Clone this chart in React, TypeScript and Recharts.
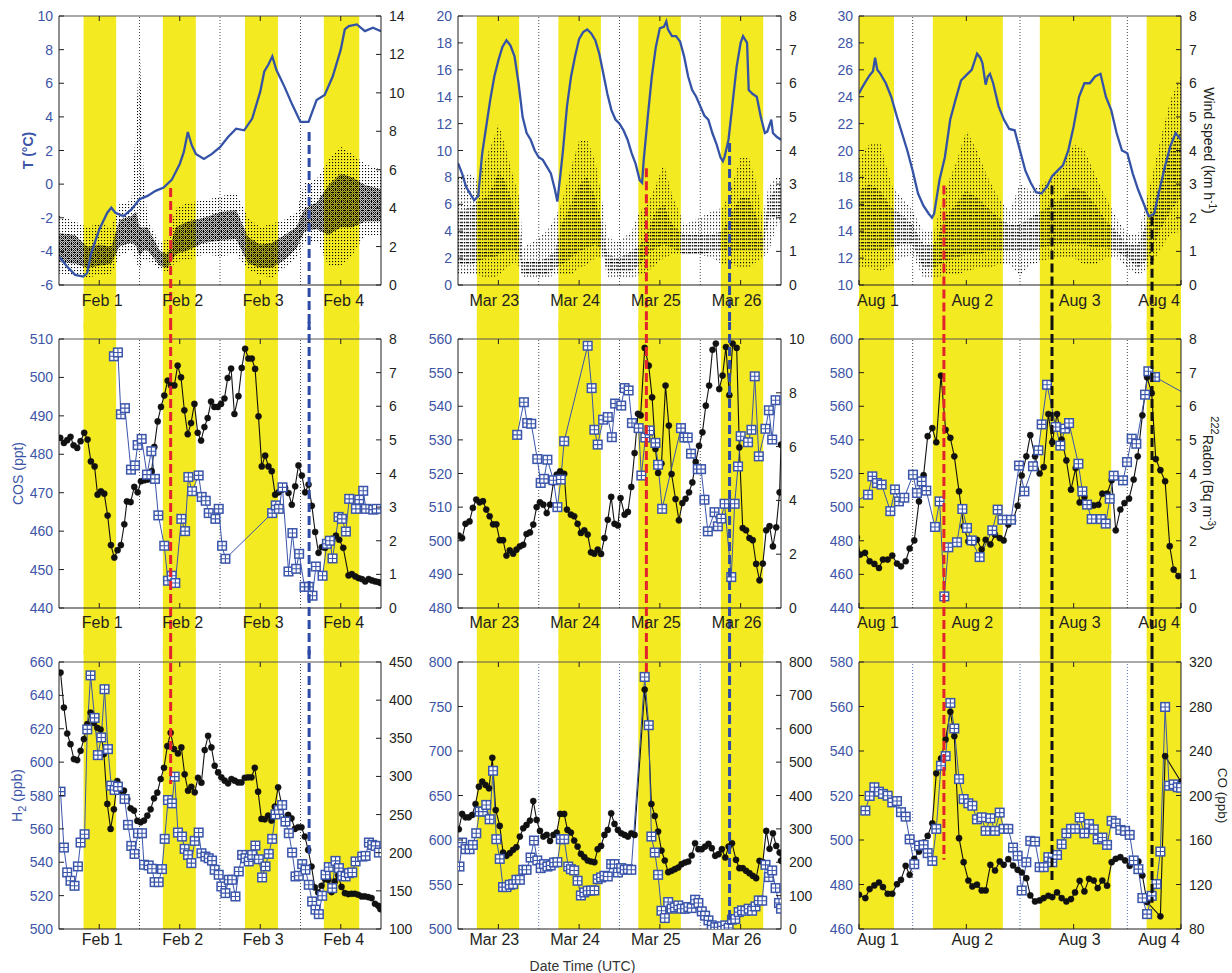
import React from "react";
import { ComposedChart, Line, Area, XAxis, YAxis, ReferenceArea, ReferenceLine } from "recharts";

const FONT = '"Liberation Sans", Arial, Helvetica, sans-serif';
const YELLOW = "#f4ea22";
const TLINE = "#3553a6";
const BLUE_TXT = "#3d55a7";
const SQ = "#3a55aa";
const INK = "#231f20";
const RED = "#e3232b";
const EVBLUE = "#2d4ba6";
const EVBLACK = "#111111";

// ---------- time axes ----------
const febDays = [1, 2, 3, 4];
const febLabels = ["Feb 1", "Feb 2", "Feb 3", "Feb 4"];
const febDaylight = [[0.805, 1.21], [1.79, 2.2], [2.81, 3.22], [3.79, 4.23]];
const febMidnight = [1.5, 2.5, 3.5];
const febEventT = [1.887, 3.607];
const febEventColor = [RED, EVBLUE];
const febEventFrom = [-0.23, 3.1];
const febEventTo = [586.9, 542.6];

const marDays = [23, 24, 25, 26];
const marLabels = ["Mar 23", "Mar 24", "Mar 25", "Mar 26"];
const marDaylight = [[22.733, 23.257], [23.743, 24.27], [24.733, 25.26], [25.755, 26.28]];
const marMidnight = [23.5, 24.5, 25.5];
const marEventT = [24.833, 25.863];
const marEventColor = [RED, EVBLUE];
const marEventFrom = [8.68, 10.56];
const marEventTo = [788.5, 504.8];

const augDays = [1, 2, 3, 4];
const augLabels = ["Aug 1", "Aug 2", "Aug 3", "Aug 4"];
const augDaylight = [[1.0, 1.326], [1.688, 2.34], [2.685, 3.35], [3.68, 4.0]];
const augMidnight = [1.5, 2.5, 3.5];
const augEventT = [1.791, 2.798, 3.73];
const augEventColor = [RED, EVBLACK, EVBLACK];
const augEventFrom = [17.4, 17.4, 15.08];
const augEventTo = [491.1, 480.8, 471.8];

// ---------- row 1: temperature and wind ----------
const tempFebT = [0.5, 0.6, 0.7, 0.8, 0.85, 0.9, 1.0, 1.1, 1.15, 1.2, 1.3, 1.4, 1.5, 1.6, 1.7, 1.8, 1.9, 2.0, 2.05, 2.1, 2.15, 2.2, 2.3, 2.4, 2.5, 2.6, 2.7, 2.8, 2.9, 3.0, 3.05, 3.1, 3.15, 3.2, 3.3, 3.4, 3.5, 3.6, 3.7, 3.8, 3.9, 4.0, 4.05, 4.1, 4.2, 4.3, 4.4, 4.5];
const tempFeb = [-4.3, -4.9, -5.4, -5.5, -5.3, -4.1, -2.7, -1.7, -1.4, -1.7, -1.9, -1.5, -0.9, -0.7, -0.4, -0.2, 0.25, 1.2, 1.9, 3.1, 2.3, 1.8, 1.5, 1.8, 2.2, 2.8, 3.3, 3.2, 3.9, 5.5, 6.7, 7.1, 7.6, 6.8, 5.8, 4.7, 3.7, 3.7, 5.0, 5.3, 6.4, 8.0, 9.2, 9.4, 9.5, 9.1, 9.3, 9.1];

const tempMarT = [22.5, 22.55, 22.6, 22.65, 22.7, 22.75, 22.8, 22.85, 22.9, 22.95, 23.0, 23.05, 23.1, 23.15, 23.2, 23.25, 23.3, 23.35, 23.4, 23.45, 23.5, 23.55, 23.6, 23.65, 23.7, 23.73, 23.77, 23.8, 23.85, 23.9, 23.95, 24.0, 24.05, 24.1, 24.15, 24.2, 24.25, 24.3, 24.35, 24.4, 24.45, 24.5, 24.55, 24.6, 24.65, 24.7, 24.75, 24.78, 24.8, 24.85, 24.9, 24.95, 25.0, 25.05, 25.08, 25.1, 25.15, 25.2, 25.25, 25.3, 25.35, 25.4, 25.45, 25.5, 25.55, 25.6, 25.65, 25.7, 25.75, 25.78, 25.8, 25.85, 25.9, 25.95, 26.0, 26.03, 26.08, 26.1, 26.15, 26.2, 26.25, 26.3, 26.33, 26.38, 26.4, 26.45, 26.5];
const tempMar = [9.05, 8.3, 7.3, 6.8, 6.3, 6.6, 9.8, 11.8, 13.8, 15.5, 16.7, 17.7, 18.2, 17.8, 17.0, 15.0, 12.5, 11.3, 10.8, 10.0, 9.5, 9.3, 8.8, 8.3, 7.1, 6.2, 8.3, 10.0, 13.3, 15.5, 17.0, 18.3, 18.8, 19.0, 18.7, 18.2, 17.2, 15.7, 14.2, 13.0, 12.3, 12.0, 11.5, 10.8, 9.8, 9.0, 7.8, 7.6, 9.3, 12.5, 15.5, 17.7, 19.1, 19.2, 19.6, 19.0, 18.5, 18.5, 18.1, 17.0, 15.5, 14.5, 14.0, 13.3, 12.6, 12.3, 11.3, 10.5, 9.5, 9.2, 9.5, 10.8, 13.5, 16.2, 18.0, 18.5, 18.0, 14.5, 14.2, 14.0, 12.5, 11.3, 11.4, 12.3, 11.3, 11.0, 10.8];

const tempAugT = [1.0, 1.03, 1.06, 1.1, 1.13, 1.15, 1.17, 1.2, 1.25, 1.3, 1.35, 1.4, 1.45, 1.5, 1.55, 1.6, 1.65, 1.68, 1.7, 1.75, 1.8, 1.85, 1.9, 1.95, 2.0, 2.05, 2.1, 2.13, 2.15, 2.18, 2.2, 2.22, 2.25, 2.3, 2.35, 2.4, 2.45, 2.5, 2.55, 2.6, 2.65, 2.7, 2.75, 2.8, 2.85, 2.9, 2.95, 3.0, 3.05, 3.1, 3.15, 3.2, 3.25, 3.3, 3.35, 3.4, 3.45, 3.5, 3.55, 3.6, 3.65, 3.7, 3.75, 3.8, 3.85, 3.9, 3.95, 4.0];
const tempAug = [24.25, 24.7, 25.1, 25.6, 25.9, 26.9, 26.0, 25.7, 25.0, 24.0, 22.6, 21.3, 20.0, 18.5, 16.8, 15.9, 15.3, 15.0, 15.3, 17.8, 19.5, 22.3, 23.8, 25.2, 25.6, 26.0, 27.2, 26.9, 26.5, 24.9, 25.5, 25.7, 25.0, 23.3, 22.3, 21.6, 21.5, 20.0, 18.5, 17.6, 16.9, 16.8, 17.3, 18.1, 18.5, 18.9, 20.0, 21.8, 24.0, 25.0, 25.0, 25.5, 25.7, 24.0, 23.0, 21.3, 20.0, 19.8, 18.3, 17.1, 16.1, 15.1, 15.3, 17.1, 18.8, 20.3, 21.3, 20.8];

// wind speed cloud: sparse envelope and dense core [low, high]
const windFebT = [0.5, 0.7, 0.85, 1.0, 1.15, 1.25, 1.4, 1.46, 1.5, 1.55, 1.6, 1.75, 1.85, 1.95, 2.1, 2.3, 2.5, 2.7, 2.85, 3.0, 3.15, 3.3, 3.45, 3.55, 3.7, 3.85, 4.0, 4.15, 4.3, 4.5];
const windFebOuter = [[0.6, 3.6], [0.5, 3.3], [0.4, 3.0], [0.5, 3.2], [0.6, 3.0], [1.5, 4.2], [1.8, 4.4], [1.2, 8.5], [0.8, 12.8], [1.3, 6.0], [1.3, 3.4], [0.8, 2.2], [0.7, 2.4], [1.2, 4.0], [1.3, 4.3], [1.6, 4.4], [1.5, 4.6], [1.6, 4.8], [0.8, 3.5], [0.5, 3.0], [0.4, 3.2], [0.9, 3.4], [1.4, 3.8], [2.2, 5.3], [2.3, 5.5], [1.0, 6.5], [1.0, 7.2], [1.6, 6.8], [2.6, 6.3], [2.6, 6.0]];
const windFebCore = [[1.2, 2.7], [1.1, 2.6], [0.9, 2.0], [1.0, 2.1], [1.1, 2.0], [2.0, 3.4], [2.2, 3.6], [2.0, 3.8], [1.5, 3.0], [1.8, 3.0], [1.8, 3.0], [1.0, 1.8], [0.9, 1.6], [1.6, 3.0], [1.8, 3.3], [2.2, 3.5], [2.3, 3.8], [2.4, 3.9], [1.1, 2.5], [0.9, 2.1], [0.9, 2.2], [1.3, 2.6], [1.9, 3.0], [2.8, 4.0], [2.9, 4.3], [2.6, 5.2], [3.0, 5.8], [3.0, 5.6], [3.3, 5.2], [3.3, 5.0]];

const windMarT = [22.5, 22.65, 22.75, 22.85, 22.95, 23.0, 23.1, 23.2, 23.27, 23.3, 23.5, 23.6, 23.7, 23.78, 23.9, 24.0, 24.1, 24.2, 24.3, 24.35, 24.5, 24.65, 24.75, 24.85, 24.95, 25.05, 25.15, 25.3, 25.5, 25.65, 25.78, 25.9, 26.0, 26.1, 26.2, 26.27, 26.35, 26.45, 26.5];
const windMarOuter = [[0.3, 3.2], [0.3, 3.3], [0.3, 3.1], [0.2, 3.8], [0.2, 4.4], [0.3, 4.8], [0.5, 4.0], [0.7, 3.1], [0.5, 2.5], [0.2, 1.1], [0.2, 1.4], [0.2, 1.6], [0.3, 2.0], [0.3, 2.4], [0.3, 3.5], [0.5, 4.3], [0.6, 4.3], [0.8, 3.7], [0.8, 2.3], [0.2, 1.4], [0.2, 1.3], [0.2, 1.6], [0.3, 2.2], [0.4, 2.4], [0.6, 3.0], [0.8, 3.6], [0.9, 2.7], [0.9, 1.8], [0.9, 2.0], [0.8, 2.2], [0.6, 2.3], [0.6, 3.0], [0.5, 3.8], [0.5, 3.8], [0.7, 3.0], [0.8, 2.0], [1.0, 3.0], [1.8, 3.2], [1.9, 3.2]];
const windMarCore = [[0.6, 2.2], [0.6, 2.3], [0.7, 2.5], [0.8, 2.6], [0.8, 3.0], [0.9, 3.4], [1.0, 3.0], [1.0, 2.2], [0.8, 1.5], [0.3, 0.7], [0.3, 0.7], [0.3, 0.8], [0.5, 1.0], [0.6, 1.8], [0.8, 2.4], [1.0, 3.0], [1.1, 3.2], [1.2, 2.6], [1.0, 1.6], [0.4, 0.9], [0.4, 0.8], [0.4, 1.0], [0.6, 1.2], [0.9, 1.6], [1.1, 2.2], [1.2, 2.4], [1.1, 1.8], [0.9, 1.5], [0.9, 1.5], [1.0, 1.5], [1.0, 1.6], [1.0, 2.2], [1.0, 2.6], [1.0, 2.6], [1.0, 2.0], [1.0, 1.4], [2.0, 2.6], [2.0, 2.9], [2.1, 2.9]];

const windAugT = [1.0, 1.1, 1.2, 1.3, 1.4, 1.5, 1.6, 1.7, 1.8, 1.9, 2.0, 2.1, 2.2, 2.3, 2.4, 2.5, 2.6, 2.7, 2.8, 2.9, 3.0, 3.1, 3.2, 3.3, 3.4, 3.5, 3.6, 3.7, 3.8, 3.9, 4.0];
const windAugOuter = [[0.5, 3.8], [0.5, 4.2], [0.4, 4.2], [0.6, 3.0], [0.8, 2.6], [0.9, 2.2], [0.2, 1.6], [0.2, 1.6], [0.3, 2.8], [0.3, 3.6], [0.4, 4.6], [0.5, 4.0], [0.5, 3.2], [0.6, 2.6], [0.6, 2.2], [0.3, 3.0], [0.6, 2.8], [0.7, 3.0], [0.8, 3.2], [0.8, 3.6], [0.8, 4.2], [0.6, 4.0], [0.6, 3.3], [0.8, 2.6], [0.8, 2.0], [0.5, 1.5], [0.3, 1.5], [0.5, 2.8], [1.0, 4.2], [1.5, 5.5], [1.6, 6.2]];
const windAugCore = [[1.0, 2.8], [1.0, 3.0], [1.0, 2.8], [1.1, 2.3], [1.2, 2.1], [1.2, 1.8], [0.5, 1.2], [0.5, 1.2], [0.7, 2.0], [0.8, 2.4], [0.9, 2.8], [0.9, 2.6], [1.0, 2.3], [1.0, 2.0], [1.0, 1.8], [1.0, 1.8], [1.0, 2.0], [1.1, 2.2], [1.2, 2.4], [1.2, 2.6], [1.2, 2.9], [1.2, 2.8], [1.1, 2.4], [1.1, 1.9], [1.0, 1.6], [0.8, 1.2], [0.5, 1.2], [0.8, 2.0], [1.6, 3.0], [2.2, 4.0], [2.6, 4.6]];

// ---------- row 2: COS and radon ----------
const radonFebT = [0.515, 0.561, 0.602, 0.643, 0.681, 0.726, 0.768, 0.813, 0.855, 0.896, 0.942, 0.979, 1.021, 1.062, 1.104, 1.145, 1.187, 1.228, 1.269, 1.311, 1.344, 1.39, 1.435, 1.477, 1.518, 1.56, 1.601, 1.634, 1.651, 1.684, 1.726, 1.767, 1.808, 1.85, 1.891, 1.933, 1.974, 2.016, 2.057, 2.099, 2.14, 2.182, 2.223, 2.265, 2.306, 2.347, 2.389, 2.43, 2.472, 2.513, 2.555, 2.596, 2.638, 2.679, 2.729, 2.77, 2.812, 2.853, 2.895, 2.936, 2.978, 3.019, 3.061, 3.102, 3.143, 3.185, 3.226, 3.268, 3.309, 3.351, 3.392, 3.434, 3.475, 3.517, 3.558, 3.6, 3.641, 3.682, 3.724, 3.765, 3.807, 3.848, 3.89, 3.94, 3.981, 4.031, 4.097, 4.138, 4.18, 4.221, 4.263, 4.304, 4.346, 4.387, 4.429, 4.47, 4.499];
const radonFeb = [5.06, 4.91, 4.99, 5.09, 4.84, 4.76, 4.96, 5.21, 5.01, 4.36, 4.21, 3.37, 3.47, 3.4, 2.75, 1.87, 1.5, 1.72, 1.87, 2.49, 3.17, 3.15, 3.6, 3.44, 3.77, 3.8, 3.82, 3.84, 4.07, 4.79, 5.55, 5.98, 6.32, 6.76, 6.62, 6.62, 7.21, 6.86, 5.88, 5.17, 5.5, 6.07, 5.21, 4.98, 5.38, 5.65, 6.14, 5.98, 5.98, 6.07, 6.23, 6.84, 7.12, 5.77, 6.3, 7.14, 7.71, 7.42, 7.42, 7.11, 5.7, 4.21, 4.53, 4.21, 4.07, 3.37, 3.44, 3.52, 3.57, 3.42, 3.07, 3.62, 4.24, 3.94, 3.44, 3.67, 3.04, 2.26, 1.64, 1.81, 1.79, 1.93, 2.06, 2.15, 2.03, 1.79, 0.97, 1.01, 0.94, 0.89, 0.86, 0.79, 0.86, 0.82, 0.79, 0.77, 0.74];
const cosFebT = [1.182, 1.232, 1.269, 1.319, 1.394, 1.444, 1.477, 1.527, 1.593, 1.647, 1.692, 1.734, 1.808, 1.854, 1.9, 1.945, 2.02, 2.066, 2.107, 2.153, 2.235, 2.273, 2.323, 2.36, 2.443, 2.484, 2.526, 2.567, 3.148, 3.193, 3.231, 3.276, 3.351, 3.4, 3.446, 3.483, 3.55, 3.604, 3.649, 3.691, 3.774, 3.828, 3.865, 3.898, 3.973, 4.014, 4.064, 4.105, 4.188, 4.23, 4.279, 4.313, 4.404, 4.445];
const cosFeb = [505.5, 506.5, 490.4, 492.0, 476.0, 477.1, 482.4, 484.0, 474.7, 480.8, 473.6, 464.1, 456.2, 447.1, 448.4, 446.5, 463.2, 460.0, 474.1, 470.4, 474.5, 468.9, 467.9, 464.7, 463.2, 465.8, 456.2, 452.8, 464.7, 466.7, 465.8, 471.4, 449.5, 459.5, 450.2, 454.1, 445.5, 445.5, 443.2, 450.8, 448.4, 456.7, 457.5, 452.9, 463.7, 463.2, 459.9, 468.4, 465.8, 468.2, 470.5, 465.8, 465.6, 465.8];

const radonMarT = [22.51, 22.551, 22.593, 22.643, 22.684, 22.726, 22.767, 22.809, 22.85, 22.892, 22.934, 22.975, 23.017, 23.058, 23.1, 23.141, 23.183, 23.224, 23.266, 23.308, 23.349, 23.391, 23.432, 23.474, 23.515, 23.557, 23.599, 23.64, 23.682, 23.723, 23.765, 23.815, 23.848, 23.898, 23.939, 23.981, 24.022, 24.064, 24.106, 24.147, 24.189, 24.23, 24.272, 24.313, 24.355, 24.397, 24.438, 24.48, 24.513, 24.563, 24.604, 24.646, 24.687, 24.729, 24.762, 24.812, 24.862, 24.904, 24.945, 24.978, 25.02, 25.07, 25.111, 25.145, 25.194, 25.236, 25.278, 25.319, 25.361, 25.402, 25.444, 25.485, 25.527, 25.569, 25.61, 25.652, 25.693, 25.735, 25.776, 25.818, 25.86, 25.901, 25.951, 25.984, 26.026, 26.067, 26.109, 26.15, 26.192, 26.234, 26.275, 26.317, 26.358, 26.4, 26.441, 26.483, 26.5];
const radonMar = [2.69, 2.6, 3.13, 3.22, 3.72, 4.03, 3.93, 3.97, 3.66, 3.41, 3.11, 3.11, 2.52, 2.52, 1.95, 2.14, 2.02, 2.17, 2.29, 2.35, 2.75, 2.81, 3.1, 3.75, 3.93, 3.84, 3.53, 3.84, 4.67, 4.96, 5.08, 4.99, 3.66, 3.47, 3.41, 3.13, 2.79, 2.89, 2.73, 2.07, 2.02, 2.17, 2.01, 2.6, 3.28, 4.13, 3.13, 3.07, 4.09, 3.47, 3.57, 4.5, 5.76, 7.22, 7.16, 9.67, 9.01, 7.83, 5.91, 5.02, 5.37, 8.27, 6.78, 4.98, 4.05, 3.26, 3.9, 4.06, 4.3, 4.67, 5.43, 6.03, 6.53, 7.52, 8.27, 9.6, 9.83, 8.14, 8.64, 9.7, 7.91, 9.83, 9.67, 5.97, 2.97, 2.89, 2.6, 2.52, 1.64, 1.03, 1.65, 2.89, 3.04, 2.29, 3.0, 4.3, 6.07];
const cosMarT = [23.233, 23.316, 23.357, 23.407, 23.482, 23.524, 23.565, 23.607, 23.682, 23.731, 23.773, 23.815, 24.106, 24.155, 24.189, 24.23, 24.297, 24.355, 24.405, 24.446, 24.521, 24.563, 24.613, 24.654, 24.737, 24.771, 24.82, 24.87, 24.945, 24.978, 25.028, 25.261, 25.303, 25.345, 25.386, 25.469, 25.51, 25.552, 25.594, 25.677, 25.718, 25.76, 25.801, 25.884, 25.926, 25.968, 26.001, 26.092, 26.134, 26.175, 26.225, 26.308, 26.35, 26.391, 26.433];
const cosMar = [531.5, 541.2, 535.0, 534.8, 524.3, 517.2, 518.4, 524.1, 518.0, 510.0, 518.2, 529.6, 558.0, 545.4, 533.0, 528.6, 536.0, 536.8, 530.8, 540.8, 540.2, 545.4, 544.7, 535.0, 533.5, 519.4, 530.7, 532.8, 529.1, 522.6, 509.5, 533.5, 530.7, 530.7, 525.9, 521.3, 521.3, 512.2, 502.8, 508.5, 504.3, 506.6, 511.0, 489.2, 511.0, 522.1, 531.1, 529.3, 533.0, 548.9, 525.1, 533.3, 538.8, 530.1, 541.8];

const radonAugT = [0.98, 1.012, 1.056, 1.099, 1.143, 1.186, 1.223, 1.267, 1.31, 1.354, 1.391, 1.435, 1.472, 1.515, 1.559, 1.602, 1.64, 1.683, 1.72, 1.764, 1.807, 1.851, 1.888, 1.932, 1.975, 2.019, 2.056, 2.099, 2.143, 2.18, 2.224, 2.267, 2.311, 2.348, 2.391, 2.435, 2.478, 2.516, 2.559, 2.596, 2.64, 2.683, 2.721, 2.764, 2.801, 2.845, 2.888, 2.932, 2.975, 3.019, 3.056, 3.1, 3.143, 3.187, 3.23, 3.267, 3.311, 3.354, 3.392, 3.435, 3.473, 3.516, 3.559, 3.597, 3.64, 3.684, 3.727, 3.765, 3.808, 3.852, 3.895, 3.932, 3.976];
const radonAug = [2.1, 1.59, 1.64, 1.39, 1.31, 1.19, 1.44, 1.44, 1.56, 1.32, 1.24, 1.39, 1.77, 2.01, 3.17, 3.95, 5.11, 5.35, 4.93, 6.91, 5.3, 5.06, 4.51, 3.47, 2.43, 1.98, 1.95, 2.03, 1.74, 2.03, 1.89, 2.18, 2.08, 2.01, 2.48, 2.61, 3.04, 3.94, 4.51, 5.14, 4.51, 4.0, 4.19, 5.77, 4.93, 5.77, 5.01, 4.39, 3.52, 4.16, 3.14, 3.3, 3.1, 3.05, 3.07, 3.4, 3.4, 3.8, 2.31, 2.93, 3.12, 3.25, 3.82, 4.51, 5.73, 6.86, 6.39, 4.43, 4.1, 3.77, 1.84, 1.14, 0.95];
const cosAugT = [0.96, 1.084, 1.124, 1.167, 1.211, 1.292, 1.335, 1.372, 1.422, 1.503, 1.54, 1.584, 1.627, 1.708, 1.751, 1.795, 1.832, 1.913, 1.963, 2.006, 2.05, 2.124, 2.242, 2.292, 2.336, 2.416, 2.491, 2.541, 2.621, 2.671, 2.702, 2.752, 2.833, 2.876, 2.92, 2.957, 3.044, 3.081, 3.125, 3.168, 3.255, 3.299, 3.336, 3.373, 3.46, 3.497, 3.541, 3.584, 3.665, 3.696, 3.758, 4.05];
const cosAug = [503, 507.4, 518.3, 514.3, 513.4, 497.6, 510.5, 503.4, 505.6, 519.3, 508.4, 515.3, 509.8, 488.2, 503.4, 446.9, 476.1, 479.1, 498.9, 487.6, 480.2, 470.3, 486.2, 498.5, 492.5, 492.5, 524.7, 509.4, 524.3, 533.8, 549.2, 572.8, 547.7, 536.6, 546.7, 550.0, 525.8, 509.4, 501.5, 492.9, 492.9, 490.2, 505.0, 518.7, 515.9, 526.8, 540.7, 537.7, 566.9, 580.8, 577.4, 567];

// ---------- row 3: H2 and CO ----------
const coFebT = [0.519, 0.561, 0.602, 0.643, 0.685, 0.726, 0.768, 0.809, 0.851, 0.892, 0.934, 0.975, 1.017, 1.058, 1.1, 1.141, 1.182, 1.224, 1.265, 1.307, 1.348, 1.39, 1.431, 1.473, 1.514, 1.556, 1.597, 1.638, 1.68, 1.721, 1.763, 1.804, 1.846, 1.887, 1.929, 1.978, 2.02, 2.061, 2.103, 2.144, 2.186, 2.227, 2.269, 2.31, 2.352, 2.393, 2.434, 2.476, 2.517, 2.559, 2.6, 2.642, 2.683, 2.725, 2.766, 2.808, 2.849, 2.891, 2.932, 2.973, 3.015, 3.056, 3.098, 3.139, 3.181, 3.222, 3.264, 3.305, 3.347, 3.388, 3.43, 3.471, 3.512, 3.554, 3.595, 3.637, 3.678, 3.72, 3.761, 3.803, 3.844, 3.886, 3.927, 3.968, 4.01, 4.051, 4.093, 4.134, 4.176, 4.217, 4.259, 4.3, 4.342, 4.383, 4.425, 4.466, 4.491];
const coFeb = [436.1, 390.3, 356.3, 342.3, 322.7, 321.4, 333.6, 348.9, 368.5, 383.7, 370.2, 363.7, 361.5, 329.3, 263.9, 231.2, 256.9, 294.0, 281.3, 281.3, 270.4, 258.2, 255.2, 241.7, 239.9, 242.1, 248.6, 256.9, 271.3, 278.7, 296.6, 311.4, 339.7, 357.2, 335.8, 330.1, 338.0, 302.7, 281.3, 286.5, 279.1, 298.3, 291.8, 334.5, 353.2, 338.0, 314.0, 305.3, 298.8, 294.4, 290.9, 296.6, 294.4, 292.2, 292.2, 298.3, 298.8, 298.8, 311.4, 280.0, 244.3, 243.8, 248.6, 242.1, 260.4, 285.7, 263.9, 238.6, 249.5, 245.1, 231.2, 233.4, 233.4, 221.2, 203.7, 181.9, 154.5, 147.9, 156.7, 165.4, 164.5, 148.4, 162.3, 170.2, 155.1, 147.1, 145.8, 146.2, 146.2, 144.9, 142.7, 142.7, 141.8, 140.5, 133.1, 130.5, 126.1];
const h2FebT = [0.519, 0.561, 0.602, 0.643, 0.693, 0.735, 0.768, 0.818, 0.851, 0.892, 0.942, 0.983, 1.025, 1.066, 1.108, 1.149, 1.191, 1.232, 1.315, 1.357, 1.398, 1.439, 1.481, 1.531, 1.556, 1.614, 1.655, 1.688, 1.738, 1.779, 1.813, 1.854, 1.904, 1.937, 1.978, 2.028, 2.061, 2.103, 2.144, 2.186, 2.235, 2.269, 2.318, 2.36, 2.401, 2.434, 2.484, 2.517, 2.567, 2.609, 2.65, 2.692, 2.733, 2.775, 2.816, 2.857, 2.899, 2.94, 2.982, 3.023, 3.065, 3.106, 3.148, 3.189, 3.231, 3.272, 3.313, 3.355, 3.396, 3.438, 3.479, 3.521, 3.562, 3.603, 3.645, 3.686, 3.728, 3.769, 3.811, 3.852, 3.894, 3.935, 3.977, 4.018, 4.06, 4.101, 4.143, 4.184, 4.267, 4.308, 4.35, 4.391, 4.433, 4.474];
const h2Feb = [582.3, 548.8, 533.9, 528.9, 525.9, 537.5, 551.8, 556.8, 619.6, 652.0, 626.5, 604.2, 614.8, 643.7, 607.8, 585.9, 583.3, 585.3, 577.9, 562.4, 549.8, 545.0, 557.4, 557.4, 538.5, 538.1, 536.1, 528.1, 528.1, 535.9, 554.0, 577.3, 575.3, 591.3, 557.8, 555.4, 548.0, 544.4, 539.5, 552.8, 557.8, 545.4, 543.4, 542.4, 541.0, 535.5, 532.5, 525.5, 521.5, 529.5, 529.5, 519.5, 534.5, 544.4, 542.4, 540.5, 544.4, 550.0, 541.8, 530.9, 537.5, 545.0, 554.0, 568.7, 571.3, 574.3, 564.4, 557.4, 545.8, 531.5, 531.9, 538.9, 535.5, 526.5, 516.5, 511.6, 508.9, 519.9, 532.5, 537.1, 524.5, 540.8, 536.5, 531.9, 531.5, 533.5, 533.9, 540.5, 543.4, 543.8, 551.8, 550.4, 549.8, 545.8];

const coMarT = [22.51, 22.551, 22.593, 22.634, 22.676, 22.717, 22.759, 22.8, 22.842, 22.884, 22.925, 22.967, 23.017, 23.058, 23.1, 23.141, 23.183, 23.224, 23.266, 23.308, 23.349, 23.391, 23.432, 23.474, 23.515, 23.557, 23.599, 23.64, 23.682, 23.723, 23.765, 23.815, 23.856, 23.898, 23.939, 23.981, 24.022, 24.064, 24.106, 24.147, 24.189, 24.23, 24.272, 24.313, 24.355, 24.397, 24.438, 24.48, 24.521, 24.563, 24.604, 24.646, 24.687, 24.812, 24.854, 24.895, 24.937, 24.978, 25.02, 25.061, 25.103, 25.145, 25.186, 25.228, 25.269, 25.311, 25.352, 25.394, 25.436, 25.477, 25.519, 25.56, 25.602, 25.643, 25.685, 25.727, 25.768, 25.81, 25.851, 25.893, 25.943, 25.984, 26.026, 26.067, 26.109, 26.15, 26.192, 26.234, 26.275, 26.317, 26.358, 26.4, 26.441, 26.483, 26.5];
const coMar = [298.9, 344.7, 334.7, 334.7, 341.7, 374.6, 426.4, 441.3, 431.4, 421.4, 513.1, 356.6, 308.8, 229.1, 219.2, 227.1, 237.1, 245.1, 276.9, 301.9, 311.8, 324.8, 383.5, 326.8, 293.9, 276.9, 281.9, 263.9, 281.9, 288.9, 344.7, 344.7, 296.9, 288.9, 265.0, 247.1, 225.1, 215.2, 205.2, 202.2, 200.2, 239.1, 249.0, 281.9, 296.9, 346.7, 314.8, 296.9, 286.9, 281.9, 276.9, 286.9, 281.9, 717.3, 607.7, 374.6, 338.7, 291.9, 235.1, 205.2, 170.3, 174.3, 179.3, 184.3, 194.3, 199.2, 202.2, 220.2, 257.0, 239.1, 239.1, 247.1, 255.0, 242.1, 219.2, 224.1, 239.1, 214.2, 247.1, 257.0, 207.2, 182.3, 182.3, 174.3, 167.3, 159.4, 152.4, 204.2, 200.2, 293.9, 240.1, 286.9, 249.0, 229.1, 204.2];
const h2MarT = [22.518, 22.551, 22.593, 22.643, 22.684, 22.726, 22.767, 22.809, 22.85, 22.892, 22.934, 22.975, 23.017, 23.058, 23.1, 23.141, 23.183, 23.224, 23.266, 23.308, 23.349, 23.399, 23.441, 23.482, 23.524, 23.565, 23.607, 23.648, 23.69, 23.731, 23.773, 23.815, 23.865, 23.898, 23.939, 23.981, 24.022, 24.064, 24.106, 24.147, 24.189, 24.23, 24.272, 24.313, 24.355, 24.397, 24.438, 24.48, 24.521, 24.563, 24.604, 24.646, 24.812, 24.862, 24.895, 24.937, 24.978, 25.02, 25.061, 25.103, 25.145, 25.186, 25.228, 25.269, 25.311, 25.352, 25.394, 25.436, 25.477, 25.519, 25.56, 25.602, 25.643, 25.685, 25.727, 25.768, 25.81, 25.851, 25.893, 25.934, 25.976, 26.017, 26.059, 26.1, 26.142, 26.184, 26.225, 26.267, 26.308, 26.35, 26.391, 26.433, 26.475, 26.5];
const h2Mar = [570.2, 597.1, 589.7, 589.7, 594.5, 607.6, 631.9, 631.9, 639.4, 623.3, 677.8, 600.9, 578.8, 547.1, 547.1, 549.7, 550.4, 555.3, 555.3, 566.5, 566.5, 580.3, 599.4, 577.0, 568.4, 572.9, 570.2, 571.4, 574.7, 575.1, 600.9, 600.9, 570.2, 567.2, 565.8, 554.2, 537.7, 541.1, 543.0, 543.3, 543.3, 556.0, 557.9, 559.8, 559.0, 572.9, 572.9, 563.5, 568.4, 566.5, 567.2, 566.5, 783.2, 729.0, 603.9, 585.9, 560.9, 520.5, 512.3, 530.3, 522.8, 524.3, 526.5, 522.8, 522.8, 524.7, 523.5, 532.9, 529.2, 519.8, 515.0, 509.7, 504.1, 501.9, 501.9, 503.0, 504.1, 501.1, 510.5, 511.2, 519.0, 520.9, 520.5, 522.8, 520.5, 525.4, 532.1, 531.8, 572.1, 558.3, 565.8, 546.0, 529.2, 522.8];

const coAugT = [1.0, 1.059, 1.099, 1.143, 1.186, 1.223, 1.267, 1.31, 1.354, 1.391, 1.435, 1.472, 1.515, 1.559, 1.602, 1.64, 1.683, 1.72, 1.764, 1.807, 1.851, 1.888, 1.932, 1.975, 2.019, 2.056, 2.099, 2.143, 2.18, 2.224, 2.267, 2.311, 2.348, 2.391, 2.435, 2.478, 2.516, 2.559, 2.596, 2.64, 2.683, 2.721, 2.764, 2.801, 2.845, 2.888, 2.932, 2.975, 3.013, 3.056, 3.1, 3.143, 3.187, 3.224, 3.267, 3.311, 3.354, 3.392, 3.435, 3.479, 3.522, 3.559, 3.603, 3.64, 3.684, 3.808, 3.852, 4.0];
const coAug = [110.8, 107.8, 115.9, 119.2, 121.8, 117.7, 111.7, 111.7, 120.3, 124.2, 136.8, 128.7, 143.1, 149.6, 157.7, 163.7, 175.0, 219.9, 233.3, 250.4, 275.2, 253.3, 161.6, 140.1, 123.6, 118.3, 119.8, 114.7, 114.7, 137.7, 132.6, 140.7, 137.7, 142.8, 137.1, 133.2, 130.8, 125.7, 110.2, 104.8, 105.7, 107.8, 109.9, 108.7, 112.9, 107.8, 104.8, 106.9, 112.9, 123.3, 113.8, 125.1, 123.6, 116.8, 123.6, 118.9, 140.1, 143.1, 144.6, 141.6, 136.8, 140.7, 140.7, 128.1, 104.2, 91.4, 235.4, 212.4];
const h2AugT = [1.059, 1.099, 1.143, 1.186, 1.223, 1.267, 1.31, 1.354, 1.391, 1.435, 1.472, 1.515, 1.559, 1.602, 1.64, 1.683, 1.72, 1.764, 1.807, 1.851, 1.888, 1.932, 1.975, 2.019, 2.056, 2.099, 2.143, 2.18, 2.224, 2.267, 2.311, 2.348, 2.391, 2.435, 2.478, 2.516, 2.559, 2.596, 2.64, 2.683, 2.721, 2.764, 2.801, 2.845, 2.888, 2.932, 2.975, 3.013, 3.056, 3.1, 3.143, 3.187, 3.224, 3.267, 3.311, 3.354, 3.392, 3.435, 3.479, 3.522, 3.559, 3.603, 3.64, 3.684, 3.727, 3.771, 3.808, 3.852, 3.889, 3.932, 3.97, 4.0];
const h2Aug = [513.2, 519.8, 523.7, 521.7, 520.7, 519.9, 516.9, 517.5, 512.5, 510.5, 500.3, 489.1, 497.5, 497.8, 494.1, 490.6, 505.0, 533.4, 537.7, 561.6, 550.1, 527.4, 518.4, 516.5, 515.4, 509.3, 510.2, 504.1, 509.8, 504.1, 512.3, 505.0, 505.0, 496.6, 492.9, 477.3, 490.0, 499.6, 499.3, 487.8, 487.8, 492.3, 490.0, 493.3, 498.1, 503.0, 505.0, 505.0, 510.1, 503.0, 507.2, 504.8, 500.3, 501.1, 497.8, 508.6, 507.5, 504.5, 504.1, 502.3, 490.8, 486.9, 473.9, 466.7, 474.9, 480.2, 494.8, 559.8, 524.4, 525.0, 523.7, 523.5];

// ---------- axis ranges ----------
const AXES = [
  [
    { ld: [-6, 10], lt: [-6, -4, -2, 0, 2, 4, 6, 8, 10], rd: [0, 14], rt: [0, 2, 4, 6, 8, 10, 12, 14] },
    { ld: [0, 20], lt: [0, 2, 4, 6, 8, 10, 12, 14, 16, 18, 20], rd: [0, 8], rt: [0, 1, 2, 3, 4, 5, 6, 7, 8] },
    { ld: [10, 30], lt: [10, 12, 14, 16, 18, 20, 22, 24, 26, 28, 30], rd: [0, 8], rt: [0, 1, 2, 3, 4, 5, 6, 7, 8] },
  ],
  [
    { ld: [440, 510], lt: [440, 450, 460, 470, 480, 490, 500, 510], rd: [0, 8], rt: [0, 1, 2, 3, 4, 5, 6, 7, 8] },
    { ld: [480, 560], lt: [480, 490, 500, 510, 520, 530, 540, 550, 560], rd: [0, 10], rt: [0, 2, 4, 6, 8, 10] },
    { ld: [440, 600], lt: [440, 460, 480, 500, 520, 540, 560, 580, 600], rd: [0, 8], rt: [0, 1, 2, 3, 4, 5, 6, 7, 8] },
  ],
  [
    { ld: [500, 660], lt: [500, 520, 540, 560, 580, 600, 620, 640, 660], rd: [100, 450], rt: [100, 150, 200, 250, 300, 350, 400, 450] },
    { ld: [500, 800], lt: [500, 550, 600, 650, 700, 750, 800], rd: [0, 800], rt: [0, 100, 200, 300, 400, 500, 600, 700, 800] },
    { ld: [460, 580], lt: [460, 480, 500, 520, 540, 560, 580], rd: [80, 320], rt: [80, 120, 160, 200, 240, 280, 320] },
  ],
];

const zip = (ts: number[], vs: number[]) => ts.map((t, i) => ({ t, v: vs[i] }));
const windRows = (ts: number[], outer: number[][], core: number[][]) =>
  ts.map((t, i) => ({ t, outer: outer[i], core: core[i] }));

const COLS = [
  { left: 59, right: 381, domain: [0.5, 4.5], days: febDays, labels: febLabels, daylight: febDaylight, midnight: febMidnight, shift: 3,
    evT: febEventT, evC: febEventColor, evFrom: febEventFrom, evTo: febEventTo,
    temp: zip(tempFebT, tempFeb), wind: windRows(windFebT, windFebOuter, windFebCore),
    radon: zip(radonFebT, radonFeb), cos: zip(cosFebT, cosFeb), co: zip(coFebT, coFeb), h2: zip(h2FebT, h2Feb) },
  { left: 458, right: 781, domain: [22.5, 26.5], days: marDays, labels: marLabels, daylight: marDaylight, midnight: marMidnight, shift: -4,
    evT: marEventT, evC: marEventColor, evFrom: marEventFrom, evTo: marEventTo,
    temp: zip(tempMarT, tempMar), wind: windRows(windMarT, windMarOuter, windMarCore),
    radon: zip(radonMarT, radonMar), cos: zip(cosMarT, cosMar), co: zip(coMarT, coMar), h2: zip(h2MarT, h2Mar) },
  { left: 859, right: 1181, domain: [1, 4], days: augDays, labels: augLabels, daylight: augDaylight, midnight: augMidnight, shift: 6,
    evT: augEventT, evC: augEventColor, evFrom: augEventFrom, evTo: augEventTo,
    temp: zip(tempAugT, tempAug), wind: windRows(windAugT, windAugOuter, windAugCore),
    radon: zip(radonAugT, radonAug), cos: zip(cosAugT, cosAug), co: zip(coAugT, coAug), h2: zip(h2AugT, h2Aug) },
];

// top of svg, plot top margin, plot height, x-axis band, band overhang above / below the plot
const ROWS = [
  { top: 0, mt: 16, plotH: 269, axisH: 45, up: 0, down: 45, labelDy: 21 },
  { top: 322, mt: 17, plotH: 269, axisH: 47, up: 17, down: 47, labelDy: 20 },
  { top: 650, mt: 12, plotH: 267, axisH: 44, up: 12, down: 0, labelDy: 16 },
];

const SquareDot = (p: any) => {
  const { cx, cy, index } = p;
  if (cx == null || cy == null || Number.isNaN(cx) || Number.isNaN(cy)) return <g key={`s${index}`} />;
  const h = 4.3;
  return (
    <g key={`s${index}`}>
      <rect x={cx - h} y={cy - h} width={2 * h} height={2 * h} fill="#fff" stroke={SQ} strokeWidth={1.5} />
      <path d={`M${cx} ${cy - h}V${cy + h}M${cx - h} ${cy}H${cx + h}`} stroke={SQ} strokeWidth={1.1} />
    </g>
  );
};

const txt = { fontFamily: FONT };

function leftTitle(row: number, y: number) {
  if (row === 0)
    return (
      <text x={33.5} y={y} transform={`rotate(-90 33.5 ${y})`} textAnchor="middle" fontSize={14} fontWeight="bold" fill={BLUE_TXT} {...txt}>
        T (°C)
      </text>
    );
  if (row === 1)
    return (
      <text x={24} y={y} transform={`rotate(-90 24 ${y})`} textAnchor="middle" fontSize={14} fill={BLUE_TXT} {...txt}>
        COS (ppt)
      </text>
    );
  return (
    <text x={23} y={y} transform={`rotate(-90 23 ${y})`} textAnchor="middle" fontSize={14} fill={BLUE_TXT} {...txt}>
      H<tspan dy={4} fontSize={11}>2</tspan>
      <tspan dy={-4}> (ppb)</tspan>
    </text>
  );
}

function rightTitle(row: number, x0: number, y: number) {
  if (row === 0) {
    const x = x0 + 23;
    return (
      <text x={x} y={y} transform={`rotate(90 ${x} ${y})`} textAnchor="middle" fontSize={14} fill={INK} {...txt}>
        Wind speed (km h<tspan dy={-5} fontSize={10}>-1</tspan>
        <tspan dy={5}>)</tspan>
      </text>
    );
  }
  if (row === 1) {
    const x = x0 + 22;
    return (
      <text x={x} y={y} transform={`rotate(90 ${x} ${y})`} textAnchor="middle" fontSize={14} fill={INK} {...txt}>
        <tspan dy={-8} fontSize={11}>222</tspan>
        <tspan dy={8}>Radon (Bq m</tspan>
        <tspan dy={-5} fontSize={10}>-3</tspan>
        <tspan dy={5}>)</tspan>
      </text>
    );
  }
  const x = x0 + 37;
  return (
    <text x={x} y={y} transform={`rotate(90 ${x} ${y})`} textAnchor="middle" fontSize={13.5} fill={INK} {...txt}>
      CO (ppb)
    </text>
  );
}

function Panel({ row, col }: { row: number; col: number }) {
  const C = COLS[col];
  const R = ROWS[row];
  const A = AXES[row][col];
  const plotW = C.right - C.left;
  const width = Math.min(plotW + 120, 1232 - (C.left - 60));
  const height = R.mt + R.plotH + R.axisH;
  const ld = A.ld;
  const span = ld[1] - ld[0];
  const above = ld[1] + (R.up / R.plotH) * span;
  const below = ld[0] - (R.down / R.plotH) * span;
  const tickLen = (5 / R.plotH) * span;
  const midY = R.mt + R.plotH / 2;
  const dom = C.domain;
  const midColor = row === 2 && col > 0 ? "#4660b0" : "#333";
  const rightW = width - 60 - plotW;

  const xTick = (p: any) => {
    const { x, y, payload } = p;
    const i = C.days.indexOf(payload.value);
    let anchor: "middle" | "start" | "end" = "middle";
    let tx = x + C.shift;
    if (payload.value <= dom[0]) {
      anchor = "start";
      tx = x - 2;
    } else if (payload.value >= dom[1]) {
      anchor = "end";
      tx = x - 1;
    }
    return (
      <g>
        <line x1={x} x2={x} y1={y} y2={y - 5} stroke={INK} />
        <text x={tx} y={y + R.labelDy} textAnchor={anchor} fontSize={16} fill={INK} {...txt}>
          {C.labels[i]}
        </text>
      </g>
    );
  };
  const yTickL = (p: any) => {
    const { x, y, payload } = p;
    return (
      <g>
        <line x1={x} x2={x + 5} y1={y} y2={y} stroke={INK} />
        <text x={x - 6} y={y + 5} textAnchor="end" fontSize={14} fill={BLUE_TXT} {...txt}>
          {payload.value}
        </text>
      </g>
    );
  };
  const yTickR = (p: any) => {
    const { x, y, payload } = p;
    return (
      <g>
        <line x1={x} x2={x - 5} y1={y} y2={y} stroke={INK} />
        <text x={x + 8} y={y + 5} textAnchor="start" fontSize={14} fill={INK} {...txt}>
          {payload.value}
        </text>
      </g>
    );
  };

  const evRange = (i: number) =>
    row === 0 ? [C.evFrom[i], below] : row === 1 ? [below, above] : [above, C.evTo[i]];

  const oH = col === 0 ? 3 : 3.36;

  return (
    <ComposedChart
      width={width}
      height={height}
      data={row === 0 ? C.wind : undefined}
      margin={{ top: R.mt, right: 0, bottom: 0, left: 0 }}
    >
      <defs>
        <pattern id={`wo${col}`} width={3} height={oH} patternUnits="userSpaceOnUse">
          <rect width={1.1} height={1.1} fill="#000" />
        </pattern>
        <pattern id={`wc${col}`} width={2} height={col === 0 ? 2 : 3.36} patternUnits="userSpaceOnUse">
          <rect width={1.2} height={1.2} fill="#000" />
          {col === 0 && <rect x={1} y={1} width={0.8} height={0.8} fill="#222" />}
        </pattern>
      </defs>

      {C.daylight.map((b, i) => (
        <ReferenceArea
          key={`band${i}`}
          yAxisId="l"
          x1={b[0]}
          x2={b[1]}
          y1={below}
          y2={above}
          fill={YELLOW}
          fillOpacity={1}
          stroke="none"
          ifOverflow="visible"
          zIndex={-20}
        />
      ))}
      {C.midnight.map((m) => (
        <ReferenceLine key={`mid${m}`} x={m} yAxisId="l" stroke={midColor} strokeWidth={0.9} strokeDasharray="1 2" zIndex={-10} />
      ))}

      <XAxis
        dataKey="t"
        type="number"
        domain={dom}
        ticks={C.days}
        interval={0}
        allowDataOverflow
        height={R.axisH}
        tickLine={false}
        tickSize={0}
        tickMargin={0}
        axisLine={{ stroke: INK }}
        tick={xTick}
        label={
          row === 2 && col === 1
            ? {
                content: () => (
                  <text x={60 + 124.5} y={height - 2.5} textAnchor="middle" fontSize={14} fill="#333" {...txt}>
                    Date Time (UTC)
                  </text>
                ),
              }
            : undefined
        }
      />
      <YAxis
        yAxisId="l"
        type="number"
        domain={ld}
        ticks={A.lt}
        interval={0}
        allowDataOverflow
        width={60}
        tickLine={false}
        tickSize={0}
        tickMargin={0}
        axisLine={{ stroke: INK }}
        tick={yTickL}
        label={col === 0 ? { content: () => leftTitle(row, midY) } : undefined}
      />
      <YAxis
        yAxisId="r"
        orientation="right"
        type="number"
        domain={A.rd}
        ticks={A.rt}
        interval={0}
        allowDataOverflow
        width={rightW}
        tickLine={false}
        tickSize={0}
        tickMargin={0}
        axisLine={{ stroke: INK }}
        tick={yTickR}
        label={col === 2 ? { content: () => rightTitle(row, 60 + plotW, midY) } : undefined}
      />
      <ReferenceLine yAxisId="l" y={ld[1]} stroke="#555" strokeWidth={1} />
      {C.days
        .filter((d) => d > dom[0] && d < dom[1])
        .map((d) => (
          <ReferenceLine
            key={`tt${d}`}
            yAxisId="l"
            segment={[{ x: d, y: ld[1] }, { x: d, y: ld[1] - tickLen }]}
            stroke={INK}
          />
        ))}

      {row === 0 && (
        <Area dataKey="outer" yAxisId="r" type="linear" stroke="none" fill={`url(#wo${col})`} fillOpacity={1} isAnimationActive={false} dot={false} activeDot={false} />
      )}
      {row === 0 && (
        <Area dataKey="core" yAxisId="r" type="linear" stroke="none" fill={`url(#wc${col})`} fillOpacity={1} isAnimationActive={false} dot={false} activeDot={false} />
      )}
      {row === 0 && (
        <Line data={C.temp} dataKey="v" yAxisId="l" type="linear" stroke={TLINE} strokeWidth={2.3} dot={false} activeDot={false} isAnimationActive={false} />
      )}

      {row > 0 && (
        <Line
          data={row === 1 ? C.radon : C.co}
          dataKey="v"
          yAxisId="r"
          type="linear"
          stroke="#111"
          strokeWidth={1.1}
          dot={{ r: 3.1, fill: "#111", stroke: "#111", strokeWidth: 0.4 }}
          activeDot={false}
          isAnimationActive={false}
        />
      )}
      {row > 0 && (
        <Line
          data={row === 1 ? C.cos : C.h2}
          dataKey="v"
          yAxisId="l"
          type="linear"
          stroke={SQ}
          strokeWidth={1}
          dot={SquareDot}
          activeDot={false}
          isAnimationActive={false}
        />
      )}

      {C.evT.map((t, i) => {
        const [a, b] = evRange(i);
        return (
          <ReferenceLine
            key={`ev${i}`}
            yAxisId="l"
            segment={[{ x: t, y: a }, { x: t, y: b }]}
            stroke={C.evC[i]}
            strokeWidth={3}
            strokeDasharray="9 4"
            ifOverflow="visible"
            zIndex={700}
          />
        );
      })}
    </ComposedChart>
  );
}

export default function App() {
  return (
    <div style={{ position: "absolute", left: 0, top: 0, width: 1232, height: 973, background: "#fff", overflow: "hidden" }}>
      {ROWS.map((r, ri) =>
        COLS.map((c, ci) => (
          <div key={`${ri}-${ci}`} style={{ position: "absolute", left: c.left - 60, top: r.top }}>
            <Panel row={ri} col={ci} />
          </div>
        ))
      )}
    </div>
  );
}
